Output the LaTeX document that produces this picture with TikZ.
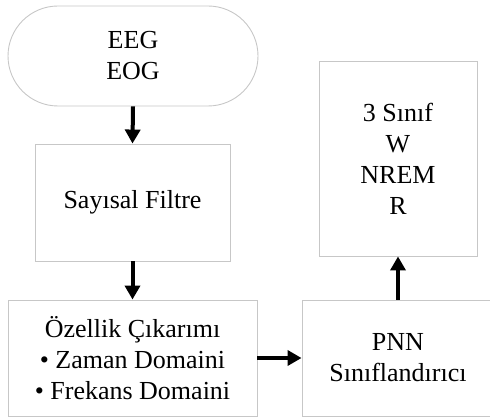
\documentclass[tikz,border=0pt]{standalone}
\usepackage{fontspec}
\setmainfont{Liberation Serif}
\usetikzlibrary{arrows.meta}
\begin{document}
\begin{tikzpicture}[x=1pt,y=-1pt,
  box/.style={draw=black!22, line width=0.9pt, align=center, inner sep=0pt,
    font=\fontsize{26}{31}\selectfont},
  flow/.style={line width=4pt, -{Triangle[width=15pt,length=14pt]}}]
\useasboundingbox (0,0) rectangle (490,417);
\node[box, rounded corners=50pt, minimum width=250pt, minimum height=100pt] (term) at (133,56) {EEG\\EOG};
\node[box, minimum width=195pt, minimum height=117pt] (filt) at (132.5,202.5) {Sayısal Filtre};
\node[box, minimum width=249pt, minimum height=116pt] (feat) at (132.5,358) {Özellik Çıkarımı\\• Zaman Domaini\\• Frekans Domaini};
\node[box, minimum width=192pt, minimum height=116pt] (pnn) at (398,358) {PNN\\Sınıflandırıcı};
\node[box, minimum width=158pt, minimum height=195pt] (out) at (398,158.5) {3 Sınıf\\W\\NREM\\R};
\draw[flow] (term.south) -- (filt.north);
\draw[flow] (filt.south) -- (feat.north);
\draw[flow] (feat.east) -- (pnn.west);
\draw[flow] (pnn.north) -- (out.south);
\end{tikzpicture}
\end{document}
